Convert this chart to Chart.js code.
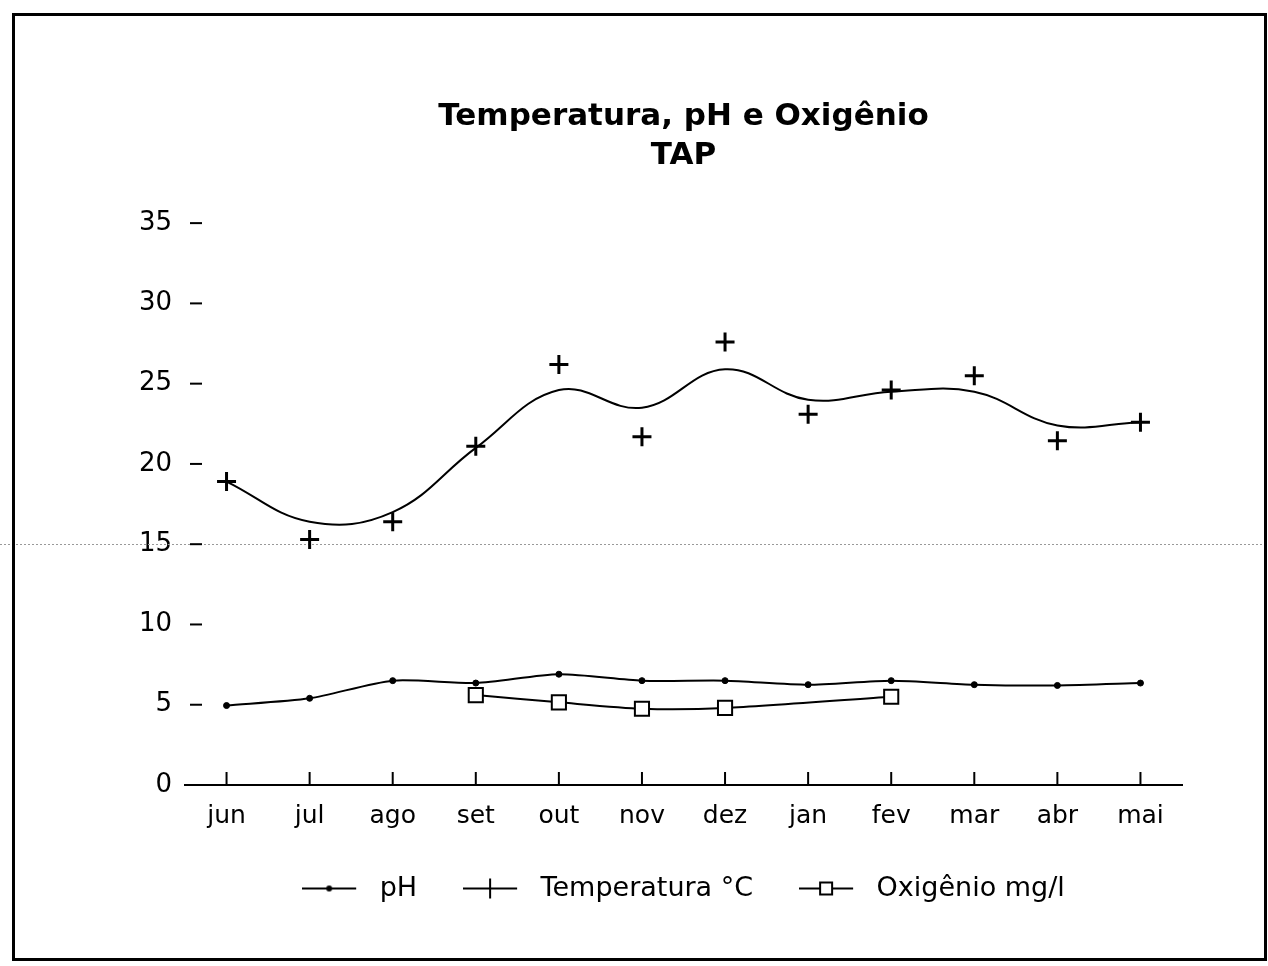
<!DOCTYPE html>
<html>
<head>
<meta charset="utf-8">
<script src="https://cdn.jsdelivr.net/npm/chart.js@4.4.1/dist/chart.umd.min.js"></script>
<style>
html,body{margin:0;padding:0;background:#fff;}
canvas{display:block;}
</style>
</head>
<body>
<canvas id="c" width="1268" height="966"></canvas>
<script>
// ---- data ----
const months = ['jun','jul','ago','set','out','nov','dez','jan','fev','mar','abr','mai'];
const phValues = [4.95, 5.4, 6.5, 6.35, 6.9, 6.5, 6.5, 6.25, 6.5, 6.25, 6.2, 6.35];
const temperatureValues = [18.9, 15.3, 16.4, 21.1, 26.2, 21.7, 27.6, 23.1, 24.6, 25.5, 21.45, 22.6];
const temperatureCurve = [18.9, 16.4, 17.0, 21.0, 24.6, 23.5, 25.9, 24.0, 24.5, 24.5, 22.4, 22.6];
const oxygenValues = [null, null, null, 5.6, 5.15, 4.75, 4.8, null, 5.5, null, null, null];
const yTickValues = [0, 5, 10, 15, 20, 25, 30, 35];
const titleLines = ['Temperatura, pH e Oxigênio', 'TAP'];
const seriesNames = ['pH', 'Temperatura °C', 'Oxigênio mg/l'];

Chart.defaults.font.family = "'DejaVu Sans', 'Liberation Sans', sans-serif";
Chart.defaults.color = '#000';

function legendIcon(kind) {
  const c = document.createElement('canvas');
  c.width = 64; c.height = 24;
  const g = c.getContext('2d');
  g.strokeStyle = '#000'; g.fillStyle = '#000'; g.lineWidth = 2;
  g.beginPath(); g.moveTo(0, 12); g.lineTo(54, 12); g.stroke();
  const cx = 27;
  if (kind === 'dot') { g.beginPath(); g.arc(cx, 12, 3, 0, Math.PI * 2); g.fill(); }
  if (kind === 'cross') { g.beginPath(); g.moveTo(cx, 2); g.lineTo(cx, 22); g.stroke(); }
  if (kind === 'square') { g.fillStyle = '#fff'; g.fillRect(cx - 6, 6, 12, 12); g.strokeRect(cx - 6, 6, 12, 12); }
  return c;
}
const legendIcons = [legendIcon('dot'), legendIcon('cross'), legendIcon('square')];

const decor = {
  id: 'decor',
  beforeDraw(chart) {
    const ctx = chart.ctx;
    ctx.save(); ctx.fillStyle = '#fff'; ctx.fillRect(0, 0, chart.width, chart.height); ctx.restore();
  },
  beforeDatasetsDraw(chart) {
    const {ctx, scales: {y}} = chart;
    const p = Math.round(y.getPixelForValue(15)) + 0.5;
    ctx.save();
    ctx.strokeStyle = '#999'; ctx.lineWidth = 1; ctx.setLineDash([2, 2]);
    ctx.beginPath(); ctx.moveTo(0, p); ctx.lineTo(chart.width, p); ctx.stroke();
    ctx.restore();
  },
  afterDraw(chart) {
    const {ctx, scales: {x, y}} = chart;
    ctx.save();
    ctx.strokeStyle = '#000';
    ctx.lineWidth = 3;
    ctx.strokeRect(13.5, 14.5, 1252, 945);
    ctx.lineWidth = 2;
    x.ticks.forEach((t, i) => {
      const px = x.getPixelForTick(i);
      ctx.beginPath(); ctx.moveTo(px, y.bottom); ctx.lineTo(px, y.bottom - 13); ctx.stroke();
    });
    y.ticks.forEach(t => {
      if (t.value === 0) return;
      const py = y.getPixelForValue(t.value);
      ctx.beginPath(); ctx.moveTo(x.left + 5, py); ctx.lineTo(x.left + 17, py); ctx.stroke();
    });
    ctx.restore();
  }
};

new Chart(document.getElementById('c'), {
  type: 'line',
  data: {
    labels: months,
    datasets: [
      { label: seriesNames[0], data: phValues, borderColor: '#000', backgroundColor: '#000',
        borderWidth: 2, pointStyle: 'circle', pointRadius: 3, pointBorderWidth: 1, tension: 0.25 },
      { label: seriesNames[1], data: temperatureValues, showLine: false, borderColor: '#000', backgroundColor: '#000',
        pointStyle: 'cross', pointRadius: 9.5, pointBorderWidth: 3 },
      { label: seriesNames[2], data: oxygenValues, spanGaps: true, borderColor: '#000', backgroundColor: '#fff',
        borderWidth: 2, pointStyle: 'rect', pointRadius: 10, pointBorderWidth: 2, tension: 0.25 },
      { label: 'curve', data: temperatureCurve, borderColor: '#000', borderWidth: 2, pointRadius: 0, tension: 0.4, fill: false }
    ]
  },
  options: {
    responsive: false,
    animation: false,
    events: [],
    layout: { padding: { left: 13, right: 86, top: 0, bottom: 54 } },
    plugins: {
      title: {
        display: true, text: titleLines, fullSize: false, color: '#000',
        font: { size: 31, weight: 'bold', lineHeight: 1.26 },
        padding: { top: 97, bottom: 48 }
      },
      legend: {
        position: 'bottom', fullSize: false,
        labels: {
          usePointStyle: true, pointStyleWidth: 64, color: '#000',
          font: { size: 27 }, padding: 46,
          generateLabels(chart) {
            return Chart.defaults.plugins.legend.labels.generateLabels(chart)
              .filter(it => it.datasetIndex < 3)
              .map(it => Object.assign(it, { pointStyle: legendIcons[it.datasetIndex] }));
          }
        }
      },
      tooltip: { enabled: false }
    },
    scales: {
      x: {
        offset: true,
        grid: { display: false },
        border: { display: true, color: '#000', width: 2 },
        ticks: { color: '#000', font: { size: 25 }, padding: 8, maxRotation: 0, autoSkip: false },
        afterFit(s) { s.height = 44; }
      },
      y: {
        min: 0, max: 35,
        grid: { display: false },
        border: { display: false },
        ticks: { color: '#000', font: { size: 26 }, padding: 5 },
        afterBuildTicks(s) { s.ticks = yTickValues.map(v => ({ value: v })); },
        afterFit(s) { s.width = 172; }
      }
    }
  },
  plugins: [decor]
});
</script>
</body>
</html>
